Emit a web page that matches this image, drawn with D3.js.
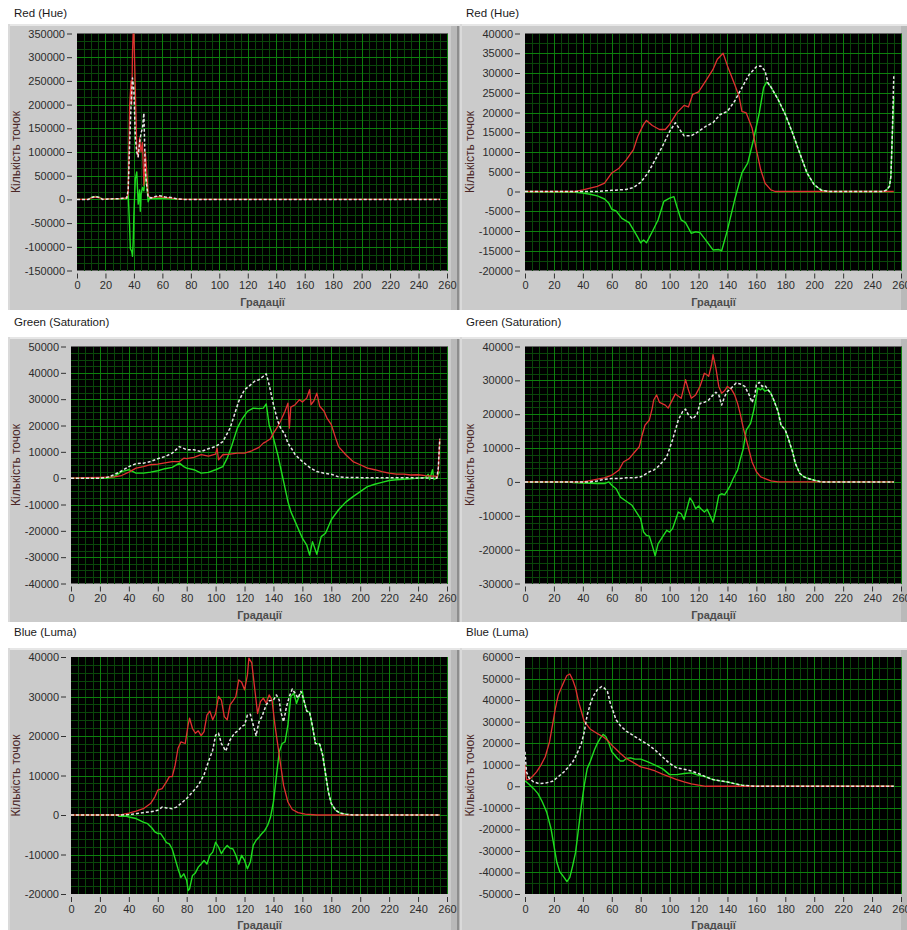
<!DOCTYPE html>
<html>
<head>
<meta charset="utf-8">
<script src="https://cdn.jsdelivr.net/npm/d3@7"></script>
<style>
  body { margin: 0; background: #fff; }
  svg { display: block; font-family: "Liberation Sans", Arial, sans-serif; }
</style>
</head>
<body>
<script>
// x axis is the same everywhere
const xTicks = d3.range(0, 261, 20);
const titles = ['Red (Hue)', 'Red (Hue)', 'Green (Saturation)', 'Green (Saturation)', 'Blue (Luma)', 'Blue (Luma)'];
const yDomains = [[-150000, 350000], [-20000, 40000], [-40000, 50000], [-30000, 40000], [-20000, 40000], [-50000, 60000]];
const yTickSteps = [50000, 5000, 10000, 10000, 10000, 10000];
const yMinorCounts = [2, 1, 3, 4, 4, 1];

// ---- Red (Hue), left
const hueL_red = [[0,0],[8,0],[10,3000],[13,5000],[16,3000],[18,0],[22,1000],[30,1500],[35,3000],[36,15000],[37,200000],[38,250000],[38.5,200000],[39,310000],[39.5,355000],[40,350000],[41,230000],[42,110000],[43,90000],[44,130000],[45,100000],[46,120000],[47,30000],[48,100000],[49,60000],[50,8000],[52,3000],[55,5000],[58,6000],[62,4000],[66,3000],[70,1000],[75,0],[255,0]];
const hueL_white = [[0,0],[8,0],[10,4000],[13,6000],[16,4000],[18,0],[22,1000],[30,1500],[35,3000],[36,20000],[37,120000],[38,200000],[39,256000],[40,230000],[41,130000],[42,100000],[43,90000],[44,120000],[45,140000],[46,150000],[47,182000],[47.5,120000],[48,60000],[49,30000],[50,5000],[52,3000],[55,6000],[58,8000],[62,5000],[66,4000],[70,1500],[75,0],[255,0]];
const hueL_green = [[0,0],[8,0],[10,4000],[13,6000],[16,4000],[18,0],[22,1000],[30,1500],[35,2000],[36,10000],[37,-60000],[37.5,-104000],[38.5,-110000],[39,-120000],[39.5,-90000],[40,-30000],[41,44000],[42,58000],[43,-10000],[44,20000],[44.5,-25000],[45,10000],[46,25000],[47,18000],[48,58000],[49,30000],[50,-5000],[51,3000],[55,2000],[60,3000],[65,2000],[70,0],[255,0]];

// ---- Red (Hue), right
const hueR_red = [[0,0],[35,0],[40,400],[50,1300],[55,2100],[60,4700],[65,5900],[70,8000],[75,10600],[78,14000],[82,17000],[84,18000],[88,16700],[93,15700],[97,15700],[100,17000],[105,19900],[110,21800],[113,21400],[116,24600],[120,25200],[125,28000],[130,30900],[133,33500],[137,35000],[140,31800],[145,27100],[148,24100],[150,20300],[153,19900],[157,16100],[160,10600],[163,5500],[166,2100],[170,400],[173,0],[255,0]];
const hueR_white = [[0,0],[50,0],[60,300],[70,500],[75,1000],[80,2300],[85,4700],[90,8000],[95,11400],[100,15200],[104,17400],[107,15700],[110,14100],[115,14100],[120,15200],[125,16500],[130,17400],[135,19500],[140,20300],[145,22900],[150,26300],[155,29600],[160,31600],[163,31800],[166,30500],[168,27500],[170,26500],[175,23300],[180,19500],[185,14800],[190,9700],[195,4700],[200,1700],[205,300],[210,0],[248,0],[250,400],[252,1300],[253,3800],[254,14800],[255,29200]];
const hueR_green = [[0,0],[35,-200],[40,-400],[45,-700],[50,-1100],[55,-1900],[58,-3000],[60,-4500],[63,-4900],[67,-6800],[72,-7900],[75,-9700],[78,-11600],[80,-13000],[82,-12300],[84,-13000],[88,-10200],[92,-7200],[96,-2500],[100,-1700],[103,-1300],[105,-3800],[108,-7200],[111,-7900],[115,-10600],[118,-10200],[121,-10400],[125,-12300],[130,-14800],[134,-14700],[136,-15000],[140,-9700],[145,-2100],[150,4700],[154,7200],[158,13100],[162,19900],[165,26300],[167,27700],[170,26500],[175,23300],[180,19500],[185,14800],[190,9700],[195,4700],[200,1700],[205,300],[210,0],[248,0],[250,400],[252,1300],[253,3800],[254,14000],[255,24000]];

// ---- Green (Saturation), left
const satL_red = [[0,0],[10,200],[20,300],[30,500],[35,1000],[40,2300],[45,3800],[50,4400],[55,5100],[60,5300],[65,5800],[70,6300],[75,6300],[78,7600],[80,7400],[85,7900],[90,8900],[95,8400],[100,9100],[101,11400],[102,7000],[105,8900],[110,9100],[115,9500],[120,9500],[125,10400],[130,11700],[133,13300],[135,13900],[138,15000],[140,17100],[143,19700],[145,21800],[148,25400],[150,28500],[151,19000],[152,27000],[155,27900],[158,29800],[160,28900],[163,30400],[165,33600],[166,27900],[168,29400],[170,32300],[172,27300],[175,25400],[177,22800],[180,20300],[183,15200],[185,12000],[190,8900],[195,6300],[200,5100],[205,3800],[210,3200],[215,2500],[220,1900],[225,1500],[230,1500],[235,1200],[240,1300],[245,1000],[250,800],[252,800],[253,0],[254,3000],[255,15000]];
const satL_white = [[0,0],[20,0],[25,300],[30,1300],[35,2800],[40,4400],[45,5500],[50,5700],[55,6300],[60,7400],[65,8200],[70,9500],[75,12000],[80,10800],[85,10800],[90,10100],[95,11200],[100,12000],[105,13900],[110,19000],[113,24100],[116,29200],[120,33600],[123,34900],[127,36800],[130,37400],[133,38700],[135,39600],[137,35500],[140,27900],[143,21600],[145,19000],[148,16500],[150,13300],[153,10800],[155,8900],[160,6300],[165,4100],[170,2500],[175,1900],[180,1500],[185,500],[190,300],[200,200],[220,200],[240,100],[250,0],[253,0],[254,4000],[255,15000]];
const satL_green = [[0,0],[25,0],[30,600],[35,2500],[40,3200],[45,1900],[50,1900],[55,2300],[60,2800],[65,3600],[70,4100],[75,5700],[78,4400],[80,3800],[85,3200],[90,1900],[95,2200],[100,3200],[105,4400],[108,7600],[111,12000],[115,19000],[118,22200],[122,25400],[126,26600],[130,26400],[133,26600],[135,28200],[137,20300],[140,15200],[143,8900],[146,1300],[148,-3800],[150,-8900],[152,-12700],[155,-16500],[158,-20300],[160,-22800],[163,-25400],[165,-29200],[167,-24100],[170,-28900],[173,-22200],[176,-20900],[180,-15800],[185,-12000],[190,-9100],[195,-7000],[200,-5100],[205,-3200],[210,-2300],[215,-1600],[220,-900],[225,-600],[230,-400],[235,-200],[240,0],[245,300],[247,1500],[248,-500],[250,3200],[251,-500],[253,0],[254,1500],[255,2500]];

// ---- Green (Saturation), right
const satR_red = [[0,0],[40,0],[45,400],[50,800],[55,1200],[60,2000],[65,3500],[68,5900],[72,6900],[76,8900],[79,10400],[81,13800],[83,16800],[86,18300],[88,21800],[89,24200],[91,25700],[93,23500],[97,22700],[99,21800],[101,23500],[104,26000],[108,24700],[110,28200],[111,30200],[113,27200],[115,24700],[118,25700],[121,28200],[123,30700],[124,32100],[126,31600],[127,31200],[129,34600],[130,37600],[132,33600],[134,28200],[136,26200],[138,26900],[140,28200],[143,27200],[145,25700],[147,23200],[149,19800],[151,15800],[154,10900],[157,5900],[160,3000],[163,1500],[166,1000],[170,300],[175,0],[255,0]];
const satR_white = [[0,0],[45,0],[50,300],[55,800],[60,1000],[65,1000],[70,1200],[75,1200],[80,1500],[83,2200],[86,3000],[89,3500],[92,4500],[95,5900],[98,7400],[100,9900],[102,12400],[104,15300],[106,18300],[109,20800],[111,21500],[113,19800],[116,18600],[119,20000],[121,23200],[124,23500],[127,24200],[129,25200],[132,26500],[134,25700],[136,22700],[138,25200],[140,26700],[143,27900],[146,29200],[149,28900],[152,28200],[155,25700],[157,23500],[159,25700],[160,28700],[162,29400],[164,28200],[166,28500],[168,27200],[170,26200],[172,24200],[175,20800],[177,16800],[180,15300],[182,12900],[185,8900],[187,5400],[190,2500],[193,1500],[196,1000],[200,500],[205,0],[255,0]];
const satR_green = [[0,0],[30,0],[33,-200],[40,-300],[50,-500],[55,-500],[58,0],[60,-1000],[63,-2000],[66,-4500],[70,-5700],[74,-6900],[77,-8900],[80,-10900],[82,-14800],[84,-15800],[86,-16000],[88,-18800],[90,-21800],[92,-18300],[95,-16300],[98,-14300],[100,-14800],[102,-13800],[104,-11400],[106,-8900],[108,-9400],[110,-11100],[112,-7900],[114,-4700],[116,-5900],[118,-7900],[120,-7100],[122,-8100],[124,-8900],[126,-8100],[128,-9900],[130,-11900],[132,-8400],[134,-4000],[136,-3500],[138,-3800],[140,-2500],[142,-1000],[144,1000],[147,3500],[149,6900],[151,9900],[153,15300],[156,17300],[158,20800],[160,25200],[161,27700],[163,27200],[164,27700],[166,26800],[168,27200],[170,26200],[172,24200],[175,20800],[177,16800],[180,15300],[182,12900],[185,8900],[187,5400],[190,2500],[193,1500],[196,1000],[200,500],[205,0],[255,0]];

// ---- Blue (Luma), left
const lumaL_red = [[0,0],[32,0],[35,100],[40,500],[45,1000],[50,1600],[55,2900],[58,4600],[60,6300],[63,6700],[66,8400],[68,9700],[70,9700],[72,12600],[74,16900],[76,18500],[79,18100],[81,22800],[82,24500],[84,21900],[86,20700],[88,21300],[90,20100],[92,21100],[94,25300],[96,26300],[98,24100],[100,25700],[102,30000],[104,29100],[106,24900],[108,24100],[110,27900],[112,28900],[114,30000],[116,34200],[118,33600],[120,31700],[122,35500],[123,39700],[125,38500],[127,32100],[129,25700],[131,28700],[133,29600],[135,28300],[137,30400],[139,29100],[141,22800],[143,17700],[145,12600],[147,7500],[150,3300],[153,1400],[157,600],[162,200],[170,0],[255,0]];
const lumaL_white = [[0,0],[35,0],[40,100],[45,300],[50,600],[55,800],[60,1200],[63,2000],[66,1800],[70,1600],[73,2000],[76,2900],[80,4200],[84,5800],[88,7500],[92,10200],[95,13500],[98,16400],[100,20200],[102,20700],[104,18100],[107,16200],[110,19000],[113,20700],[116,21500],[118,22400],[120,22800],[122,25300],[124,25500],[126,22800],[128,20100],[130,23600],[132,24900],[135,27900],[137,28900],[140,29100],[142,30400],[144,29100],[145,26200],[147,23600],[149,27400],[151,30000],[153,31900],[155,30800],[157,29600],[159,31300],[161,29100],[163,26300],[165,26000],[167,22400],[169,18100],[172,17900],[174,15200],[176,10500],[178,5800],[180,2900],[183,1200],[186,500],[190,200],[195,0],[255,0]];
const lumaL_green = [[0,0],[32,0],[33,-300],[38,-300],[40,-500],[45,-900],[50,-1800],[53,-2200],[56,-3300],[58,-4300],[60,-4700],[62,-4700],[64,-5800],[66,-7000],[68,-7300],[70,-8600],[72,-11100],[74,-13600],[76,-15800],[78,-14900],[80,-16600],[81,-19100],[82,-18700],[84,-15300],[86,-14700],[88,-13200],[90,-12400],[92,-11500],[94,-12400],[96,-10200],[98,-9400],[100,-6900],[102,-8100],[104,-9800],[106,-8600],[108,-7700],[110,-8400],[112,-8600],[114,-10200],[116,-12400],[118,-10200],[120,-11500],[122,-13600],[124,-11900],[126,-7700],[128,-6400],[130,-5600],[132,-4700],[134,-3900],[136,-2600],[138,-500],[140,3300],[142,9700],[144,16000],[146,18100],[148,18500],[150,22800],[152,30000],[154,30800],[156,28300],[158,30400],[160,31300],[161,29100],[163,26300],[165,26000],[167,22400],[169,18100],[172,17900],[174,15200],[176,10500],[178,5800],[180,2900],[183,1200],[186,500],[190,200],[195,0],[255,0]];

// ---- Blue (Luma), right
const lumaR_red = [[0,10000],[1,3000],[3,3300],[5,4400],[8,6700],[11,9800],[14,13700],[17,20700],[19,28400],[21,36200],[23,42400],[25,45500],[27,48600],[29,51400],[31,52100],[33,49400],[35,45500],[37,39300],[39,34700],[41,30000],[43,28400],[45,26600],[48,25300],[51,24100],[54,23000],[57,21400],[60,19100],[63,17200],[66,15200],[70,12900],[75,11000],[80,9000],[85,8200],[90,7100],[95,5600],[100,4400],[105,3100],[110,2000],[115,1100],[120,500],[125,0],[255,0]];
const lumaR_white = [[0,16000],[1,6700],[3,3600],[6,2000],[10,1200],[15,1600],[19,2300],[23,4400],[27,6700],[30,9000],[33,11300],[36,15200],[39,19900],[41,25300],[43,33100],[45,37800],[47,41600],[50,44800],[53,46300],[55,45500],[57,44000],[59,38500],[61,34700],[63,30800],[66,28100],[70,25600],[75,23500],[80,21400],[85,19400],[90,16800],[95,13700],[100,10600],[105,8500],[110,7900],[115,7100],[120,5900],[125,4400],[130,3100],[135,2500],[140,2000],[145,1200],[150,500],[155,200],[160,0],[255,0]];
const lumaR_green = [[0,2500],[3,800],[6,-1100],[9,-3400],[12,-7300],[15,-12000],[18,-19700],[20,-27500],[22,-35300],[24,-39600],[27,-42300],[29,-44300],[31,-42300],[33,-36800],[35,-30600],[37,-19700],[39,-8900],[41,500],[43,8200],[45,11300],[48,16800],[50,19900],[52,22200],[54,24100],[56,23000],[58,19900],[60,16000],[62,14500],[64,12900],[66,11700],[68,11700],[70,12900],[73,13200],[76,12600],[80,12600],[85,11300],[90,9800],[95,8200],[100,5400],[105,5400],[110,5900],[115,6200],[120,5100],[125,4400],[130,3100],[135,2500],[140,2000],[145,1200],[150,500],[155,200],[160,0],[255,0]];

const seriesByPanel = [
  [hueL_green, hueL_red, hueL_white],
  [hueR_green, hueR_red, hueR_white],
  [satL_green, satL_red, satL_white],
  [satR_green, satR_red, satR_white],
  [lumaL_green, lumaL_red, lumaL_white],
  [lumaR_green, lumaR_red, lumaR_white]
];

// layout: frame boxes, plot boxes, title baselines
const cols = [{fx: 8, fw: 452, yLabelX: 20}, {fx: 460, fw: 450, yLabelX: 474}];
const rows = [
  {ty: 17, fy: 24, fh: 286, py0: 33.5, py1: 270.5},
  {ty: 326, fy: 337, fh: 285, py0: 346.5, py1: 583.5},
  {ty: 636, fy: 648, fh: 282, py0: 657, py1: 894}
];
const plotX = [[77, 448], [525, 902], [71, 448], [525, 902], [71, 448], [525, 902]];

const lineStyles = [
  {stroke: '#1fdc1f', width: 1.4, dash: null},
  {stroke: '#e03030', width: 1.3, dash: null},
  {stroke: '#e6e6e6', width: 1.5, dash: '3,2'}
];

const W = 907, H = 930;
const svg = d3.select('body').append('svg')
    .attr('width', W)
    .attr('height', H);

titles.forEach((title, i) => {
  const col = cols[i % 2];
  const row = rows[Math.floor(i / 2)];
  const [px0, px1] = plotX[i];
  const py0 = row.py0, py1 = row.py1;

  const g = svg.append('g');

  // grey LabVIEW style frame
  g.append('rect')
      .attr('x', col.fx).attr('y', row.fy)
      .attr('width', col.fw).attr('height', row.fh)
      .attr('fill', '#cbcbcb');
  g.append('rect')
      .attr('x', col.fx).attr('y', row.fy)
      .attr('width', col.fw).attr('height', 2)
      .attr('fill', '#e6e6e6');
  g.append('rect')
      .attr('x', col.fx).attr('y', row.fy)
      .attr('width', 2).attr('height', row.fh)
      .attr('fill', '#dadada');
  g.append('rect')
      .attr('x', col.fx + col.fw - 9).attr('y', row.fy + 2)
      .attr('width', 9).attr('height', row.fh - 2)
      .attr('fill', '#b9b9b9');
  g.append('rect')
      .attr('x', col.fx + col.fw - 3).attr('y', row.fy + 2)
      .attr('width', 2).attr('height', row.fh - 2)
      .attr('fill', '#8e8e8e');

  g.append('text')
      .attr('x', col.fx + 6).attr('y', row.ty)
      .attr('font-size', 11.5)
      .attr('fill', '#1a1a1a')
      .text(title);

  const x = d3.scaleLinear().domain([0, 260]).range([px0, px1 - 1]);
  const y = d3.scaleLinear().domain(yDomains[i]).range([py1, py0]);

  g.append('rect')
      .attr('x', px0).attr('y', py0)
      .attr('width', px1 - px0).attr('height', py1 - py0)
      .attr('fill', '#000');

  const step = yTickSteps[i];
  const yMajor = d3.range(yDomains[i][0], yDomains[i][1] + 1, step);
  const yMinor = [];
  yMajor.slice(0, -1).forEach(v => {
    for (let k = 1; k <= yMinorCounts[i]; k++) yMinor.push(v + k * step / (yMinorCounts[i] + 1));
  });
  const xMinor = d3.range(0, 261, 5).filter(v => v % 20 !== 0);

  const grid = g.append('g').attr('shape-rendering', 'crispEdges');
  grid.selectAll('.vmin').data(xMinor).join('line')
      .attr('x1', d => Math.round(x(d)) + 0.5).attr('x2', d => Math.round(x(d)) + 0.5)
      .attr('y1', py0).attr('y2', py1)
      .attr('stroke', '#0a460a');
  grid.selectAll('.hmin').data(yMinor).join('line')
      .attr('x1', px0).attr('x2', px1)
      .attr('y1', d => Math.round(y(d)) + 0.5).attr('y2', d => Math.round(y(d)) + 0.5)
      .attr('stroke', '#0a460a');
  grid.selectAll('.vmaj').data(xTicks.slice(1)).join('line')
      .attr('x1', d => Math.round(x(d)) + 0.5).attr('x2', d => Math.round(x(d)) + 0.5)
      .attr('y1', py0).attr('y2', py1)
      .attr('stroke', '#0d800d');
  grid.selectAll('.hmaj').data(yMajor.slice(1, -1)).join('line')
      .attr('x1', px0).attr('x2', px1)
      .attr('y1', d => Math.round(y(d)) + 0.5).attr('y2', d => Math.round(y(d)) + 0.5)
      .attr('stroke', '#0d800d');

  // axes
  const yAxis = g.append('g')
      .attr('transform', `translate(${px0 - 5},0)`)
      .call(d3.axisLeft(y).tickValues(yMajor).tickSize(5).tickPadding(2).tickFormat(d3.format('d')));
  const xAxis = g.append('g')
      .attr('transform', `translate(0,${py1 + 3})`)
      .call(d3.axisBottom(x).tickValues(xTicks).tickSize(5).tickPadding(3));
  [yAxis, xAxis].forEach(a => {
    a.select('.domain').remove();
    a.selectAll('line').attr('stroke', '#333');
    a.selectAll('text')
        .attr('font-family', '"Liberation Sans", Arial, sans-serif')
        .attr('font-size', 11)
        .attr('fill', '#2b2b2b');
  });
  yAxis.selectAll('text').text(d => d < 0 ? '-' + Math.abs(d) : d);

  g.append('text')
      .attr('x', (px0 + px1) / 2).attr('y', py1 + 35)
      .attr('text-anchor', 'middle')
      .attr('font-size', 11)
      .attr('font-weight', 'bold')
      .attr('fill', '#4d4d4d')
      .text('Градації');

  g.append('text')
      .attr('transform', `translate(${col.yLabelX},${(py0 + py1) / 2}) rotate(-90)`)
      .attr('text-anchor', 'middle')
      .attr('font-size', 12)
      .attr('fill', '#4a2626')
      .text('Кількість точок');

  // curves
  const clipId = 'clip' + i;
  g.append('clipPath').attr('id', clipId)
    .append('rect')
      .attr('x', px0).attr('y', py0)
      .attr('width', px1 - px0).attr('height', py1 - py0);

  const line = d3.line().x(d => x(d[0])).y(d => y(d[1]));
  const curves = g.append('g').attr('clip-path', `url(#${clipId})`);
  seriesByPanel[i].forEach((s, k) => {
    const st = lineStyles[k];
    curves.append('path')
        .attr('d', line(s))
        .attr('fill', 'none')
        .attr('stroke', st.stroke)
        .attr('stroke-width', st.width)
        .attr('stroke-dasharray', st.dash)
        .attr('stroke-linejoin', 'round');
  });
});
</script>
</body>
</html>
